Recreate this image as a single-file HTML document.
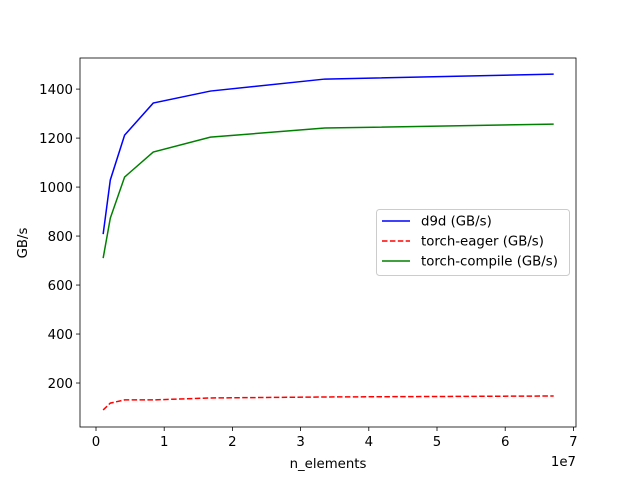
<!DOCTYPE html>
<html><head><meta charset="utf-8"><style>
body{margin:0;background:#fff}
svg text{font-family:"DejaVu Sans","Liberation Sans",sans-serif;fill:#000}
</style></head><body>
<svg id="chart" width="640" height="480" xmlns="http://www.w3.org/2000/svg">
<rect width="640" height="480" fill="#fff"/>
<g id="plot"></g>
</svg>
<script>
const xValues=[1048576,2097152,4194304,8388608,16777216,33554432,67108864];
const d9dValues=[808,1029,1212,1343,1392,1441,1461];
const eagerValues=[90,118,131,131,139,143,147];
const compileValues=[710,873,1041,1143,1204,1241,1257];
const xTicks=[0,1,2,3,4,5,6,7];
const yTicks=[200,400,600,800,1000,1200,1400];
const L=80,R=576,T=58,B=427;
const xMin=-16/68.2*1e7, xMax=(R-96)/68.2*1e7;
const yMin=20.4, yMax=1527;
const sx=v=>L+(v-xMin)/(xMax-xMin)*(R-L);
const sy=v=>B-(v-yMin)/(yMax-yMin)*(B-T);
const NS="http://www.w3.org/2000/svg";
const g=document.getElementById('plot');
const FS=13.3;
function mk(t,a,p){const e=document.createElementNS(NS,t);for(const k in a)e.setAttribute(k,a[k]);(p||g).appendChild(e);return e;}
xTicks.forEach(t=>{const x=sx(t*1e7);
const l=mk('line',{x1:x,x2:x,y1:B,y2:B+4,stroke:'#000','stroke-width':0.8});


const tx=mk('text',{x:x,y:B+19,'text-anchor':'middle','font-size':FS});tx.textContent=t;

});
yTicks.forEach(t=>{const y=sy(t);
const l=mk('line',{x1:L-4,x2:L,y1:y,y2:y,stroke:'#000','stroke-width':0.8});


const tx=mk('text',{x:L-7,y:y+5,'text-anchor':'end','font-size':FS});tx.textContent=t;

});
function series(vals,color,dash,name){
const p=mk('polyline',{points:vals.map((v,i)=>sx(xValues[i])+','+sy(v)).join(' '),fill:'none',stroke:color,'stroke-width':1.5,'stroke-dasharray':dash||'none'});

}
series(d9dValues,'#0000ff',null,'d9d-line');
series(eagerValues,'#ff0000','5.5,2.4','torch-eager-line');
series(compileValues,'#008000',null,'torch-compile-line');
const fr=mk('rect',{x:L,y:T,width:R-L,height:B-T,fill:'none',stroke:'#000','stroke-width':0.8});


let t=mk('text',{x:328,y:468,'text-anchor':'middle','font-size':FS});t.textContent='n_elements';


t=mk('text',{x:0,y:0,'text-anchor':'middle','font-size':FS,transform:'translate(27,243) rotate(-90)'});t.textContent='GB/s';


t=mk('text',{x:576,y:466,'text-anchor':'end','font-size':FS});t.textContent='1e7';


const lg=mk('g',{});


mk('rect',{x:376.5,y:209.5,width:193,height:66,rx:3,fill:'#fff','fill-opacity':0.8,stroke:'#ccc'},lg);
[['d9d (GB/s)','#0000ff',null],['torch-eager (GB/s)','#ff0000','5.5,2.4'],['torch-compile (GB/s)','#008000',null]].forEach((e,i)=>{
const y=221+i*20;
mk('line',{x1:382,x2:410,y1:y,y2:y,stroke:e[1],'stroke-width':1.5,'stroke-dasharray':e[2]||'none'},lg);
const tt=mk('text',{x:421,y:y+4.5,'font-size':FS},lg);tt.textContent=e[0];

});
</script>
</body></html>
